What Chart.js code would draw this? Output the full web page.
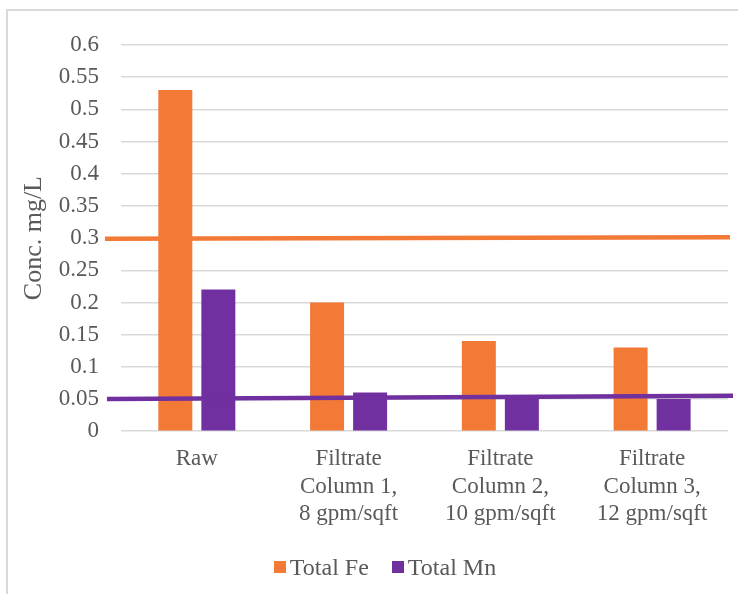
<!DOCTYPE html>
<html>
<head>
<meta charset="utf-8">
<script src="https://cdn.jsdelivr.net/npm/chart.js@4/dist/chart.umd.min.js"></script>
<style>
  html, body { margin: 0; padding: 0; background: #ffffff; overflow: hidden; }
  #wrap { position: relative; width: 738px; height: 594px; overflow: hidden; }
  #frame { position: absolute; left: 6px; top: 9px; width: 800px; height: 700px;
           border: 2px solid #d9d9d9; box-sizing: border-box; }
  #chart { position: absolute; left: 0; top: 0; }
  #legend { position: absolute; left: 0; top: 553px; width: 770px; height: 28px;
            display: flex; justify-content: center; align-items: center;
            font: 24px "Liberation Serif", "Times New Roman", serif; color: #595959;
            line-height: 28px; white-space: nowrap; }
  #legend .item { display: flex; align-items: center; margin: 0 11.5px; }
  #legend .swatch { width: 12px; height: 12px; margin-right: 4px; }
</style>
</head>
<body>
<div id="wrap">
  <div id="frame"></div>
  <canvas id="chart" width="738" height="594"></canvas>
  <div id="legend"></div>
</div>
<script>
// Sample categories (multi-line labels)
const categories = [
  ['Raw'],
  ['Filtrate', 'Column 1,', '8 gpm/sqft'],
  ['Filtrate', 'Column 2,', '10 gpm/sqft'],
  ['Filtrate', 'Column 3,', '12 gpm/sqft']
];

// Measured concentrations, mg/L
const totalFe = [0.53, 0.20, 0.14, 0.13];
const totalMn = [0.22, 0.06, 0.05, 0.05];

// Reference limit lines (value at left end, value at right end), mg/L
const feLimit = [0.299, 0.3015];
const mnLimit = [0.05, 0.055];

// Y axis ticks
const yMin = 0;
const yMax = 0.6;
const yStep = 0.05;

const FE_COLOR = '#f27936';
const MN_COLOR = '#7030a0';
const TEXT_COLOR = '#595959';
const FONT = '"Liberation Serif", "Times New Roman", serif';

// Draws the two limit lines across the plot, on top of the bars
const limitLines = {
  id: 'limitLines',
  afterDatasetsDraw(chart) {
    const { ctx, chartArea, scales } = chart;
    const y = scales.y;
    const draw = (vals, color, x0, x1) => {
      ctx.save();
      ctx.strokeStyle = color;
      ctx.lineWidth = 4.5;
      ctx.beginPath();
      ctx.moveTo(x0, y.getPixelForValue(vals[0]));
      ctx.lineTo(x1, y.getPixelForValue(vals[1]));
      ctx.stroke();
      ctx.restore();
    };
    draw(feLimit, FE_COLOR, chartArea.left - 16, chartArea.right + 2);
    draw(mnLimit, MN_COLOR, chartArea.left - 14, chartArea.right + 5);
  }
};

const chart = new Chart(document.getElementById('chart'), {
  type: 'bar',
  data: {
    labels: categories,
    datasets: [
      { label: 'Total Fe', data: totalFe, backgroundColor: FE_COLOR,
        categoryPercentage: 0.567, barPercentage: 0.79 },
      { label: 'Total Mn', data: totalMn, backgroundColor: MN_COLOR,
        categoryPercentage: 0.567, barPercentage: 0.79 }
    ]
  },
  options: {
    responsive: false,
    animation: false,
    layout: { padding: { left: 19, top: 45, right: 10, bottom: 52 } },
    plugins: {
      tooltip: { enabled: false },
      legend: { display: false }
    },
    scales: {
      x: {
        grid: { display: false, drawTicks: false },
        border: { display: false },
        ticks: {
          color: TEXT_COLOR,
          font: { family: FONT, size: 23, lineHeight: 1.2 },
          padding: 14,
          maxRotation: 0,
          autoSkip: false
        }
      },
      y: {
        min: yMin,
        max: yMax,
        grid: { color: '#d9d9d9', lineWidth: 1.5, drawTicks: false },
        border: { display: false },
        ticks: {
          stepSize: yStep,
          color: TEXT_COLOR,
          font: { family: FONT, size: 23 },
          padding: 22,
          callback: (v) => String(Number(v.toFixed(2)))
        },
        title: {
          display: true,
          text: 'Conc. mg/L',
          color: TEXT_COLOR,
          font: { family: FONT, size: 26 },
          padding: { top: 0, bottom: -13.5 }
        }
      }
    }
  },
  plugins: [limitLines]
});

// Legend built from the chart's datasets
const legendEl = document.getElementById('legend');
chart.data.datasets.forEach((ds) => {
  const item = document.createElement('span');
  item.className = 'item';
  const sw = document.createElement('span');
  sw.className = 'swatch';
  sw.style.background = ds.backgroundColor;
  const txt = document.createElement('span');
  txt.textContent = ds.label;
  item.appendChild(sw);
  item.appendChild(txt);
  legendEl.appendChild(item);
});
</script>
</body>
</html>
